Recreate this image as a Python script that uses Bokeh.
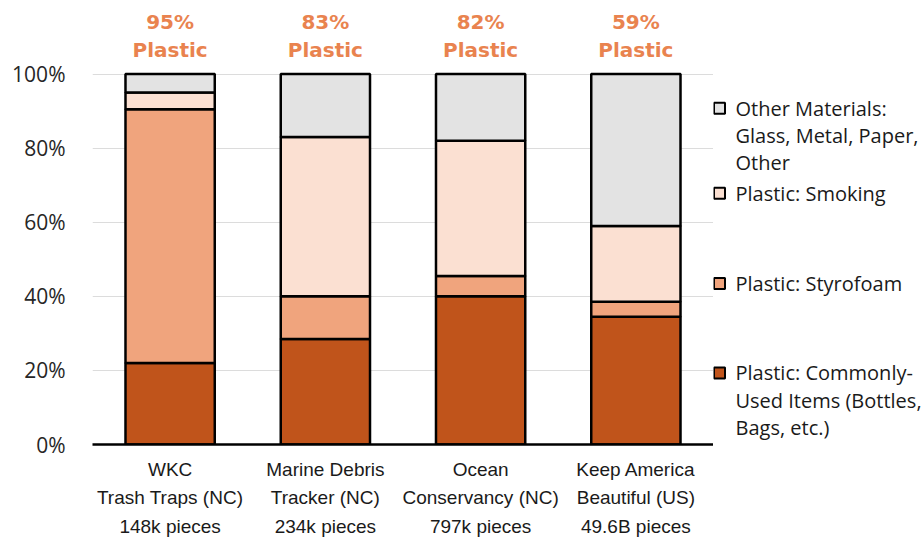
from bokeh.plotting import figure
from bokeh.models import FactorRange, Range1d, FixedTicker, ColumnDataSource, PrintfTickFormatter
from bokeh.layouts import row
from bokeh.embed import file_html
from bokeh.resources import INLINE
from bokeh.core.properties import value

# ---------------- data ----------------
sources = ["WKC\nTrash Traps (NC)", "Marine Debris\nTracker (NC)",
           "Ocean\nConservancy (NC)", "Keep America\nBeautiful (US)"]
pieces = ["148k pieces", "234k pieces", "797k pieces", "49.6B pieces"]
common = [22, 28.5, 40, 34.5]
styrofoam = [68.5, 11.5, 5.5, 4]
smoking = [4.5, 43, 36.5, 20.5]
other = [5, 17, 18, 41]
plastic_pct = ["95%", "83%", "82%", "59%"]
y_ticks = [0, 20, 40, 60, 80, 100]
series = ["common", "styrofoam", "smoking", "other"]
series_labels = [
    ["Plastic: Commonly-", "Used Items (Bottles,", "Bags, etc.)"],
    ["Plastic: Styrofoam"],
    ["Plastic: Smoking"],
    ["Other Materials:", "Glass, Metal, Paper,", "Other"],
]

# ---------------- styles ----------------
colors = ["#C0541B", "#F0A47D", "#FBE0D2", "#E3E3E3"]
label_orange = "#E9834F"

cats = [f"{s}\n{p}" for s, p in zip(sources, pieces)]
src = ColumnDataSource(dict(cat=cats, common=common, styrofoam=styrofoam,
                            smoking=smoking, other=other, pct=plastic_pct,
                            word=["Plastic"] * len(cats)))

p = figure(x_range=FactorRange(*cats), y_range=Range1d(0, 118.5),
           width=713, height=540, output_backend="svg", toolbar_location=None,
           min_border_left=92, min_border_right=0, min_border_top=5,
           min_border_bottom=93)
p.outline_line_color = None
p.background_fill_color = "white"

p.vbar_stack(series, x="cat", width=0.575, source=src, fill_color=colors,
             line_color="black", line_width=2.5)

p.text(x="cat", y=114, text="pct", source=src, text_font=value("DejaVu Sans"),
       text_font_style="bold", text_font_size="20px", text_color=label_orange,
       text_align="center", text_baseline="middle")
p.text(x="cat", y=106.5, text="word", source=src, text_font=value("DejaVu Sans"),
       text_font_style="bold", text_font_size="20px", text_color=label_orange,
       text_align="center", text_baseline="middle")

p.yaxis.ticker = FixedTicker(ticks=y_ticks)
p.yaxis.formatter = PrintfTickFormatter(format="%d%%")
p.yaxis.axis_line_color = None
p.yaxis.major_tick_line_color = None
p.yaxis.minor_tick_line_color = None
p.yaxis.major_tick_out = 0
p.yaxis.major_label_standoff = 27
p.yaxis.major_label_text_font = "Open Sans"
p.yaxis.major_label_text_font_size = "21px"
p.yaxis.major_label_text_color = "#262626"

p.ygrid.ticker = FixedTicker(ticks=y_ticks)
p.ygrid.grid_line_color = "#dcdcdc"
p.xgrid.grid_line_color = None

p.xaxis.axis_line_color = "black"
p.xaxis.axis_line_width = 2.5
p.xaxis.major_tick_line_color = None
p.xaxis.minor_tick_line_color = None
p.xaxis.major_tick_out = 0
p.xaxis.major_label_standoff = 14
p.xaxis.major_label_text_font = "Liberation Sans"
p.xaxis.major_label_text_font_size = "19px"
p.xaxis.major_label_text_line_height = 1.38
p.xaxis.major_label_text_color = "#1a1a1a"

# ---------------- legend panel (y in page pixels, frame aligned with main) ----------------
lg = figure(width=208, height=540, x_range=Range1d(0, 208), y_range=Range1d(447, 5),
            output_backend="svg", toolbar_location=None, min_border_left=0,
            min_border_right=0, min_border_top=5, min_border_bottom=93,
            x_axis_location=None, y_axis_location=None)
lg.outline_line_color = None
lg.grid.visible = False

entry_y = [375, 285, 194, 108.5]
line_gap = 27.5
lg.scatter(x=[6] * len(series), y=entry_y, marker="square", size=11,
           fill_color=colors, line_color="black", line_width=2)
tx, ty, tt = [], [], []
for y0, lines in zip(entry_y, series_labels):
    for i, t in enumerate(lines):
        tx.append(22)
        ty.append(y0 + i * line_gap)
        tt.append(t)
lg.text(x=tx, y=ty, text=tt, text_font=value("Open Sans"), text_font_size="20px",
        text_color="#1a1a1a", text_align="left", text_baseline="middle")

layout = row(p, lg)
open("out.html", "w").write(file_html(layout, INLINE))
